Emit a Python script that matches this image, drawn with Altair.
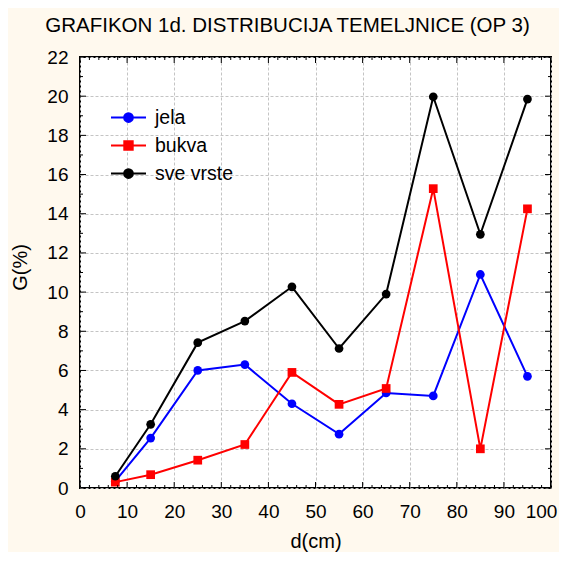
import altair as alt
import pandas as pd

# ---- data ----
d_cm = [7.5, 15, 25, 35, 45, 55, 65, 75, 85, 95]
jela = [0.35, 2.55, 6.0, 6.3, 4.3, 2.75, 4.85, 4.7, 10.9, 5.7]
bukva = [0.3, 0.68, 1.42, 2.22, 5.9, 4.27, 5.08, 15.28, 2.0, 14.25]
sve_vrste = [0.6, 3.25, 7.42, 8.52, 10.27, 7.12, 9.9, 19.97, 12.95, 19.85]
series_names = ["jela", "bukva", "sve vrste"]
series_colors = ["#0000ff", "#ff0000", "#000000"]
series_shapes = ["circle", "square", "circle"]

x_major = list(range(0, 101, 10))
x_minor = [v for v in range(0, 101, 2) if v % 10]
y_major = list(range(0, 23, 2))
y_minor = list(range(1, 22, 2))

W, H = 471, 431
FONT = "Liberation Sans"

rows = []
for name, vals in zip(series_names, [jela, bukva, sve_vrste]):
    for x, y in zip(d_cm, vals):
        rows.append({"serija": name, "d": x, "G": y})
df = pd.DataFrame(rows)

xs = alt.Scale(domain=[0, 100], nice=False, zero=False)
ys = alt.Scale(domain=[0, 22], nice=False, zero=False)

x_axis = alt.Axis(values=x_major, grid=True, gridDash=[3, 2], gridColor="#c4c4c4",
                  gridWidth=1, ticks=False, tickSize=0, domain=False,
                  labelFont=FONT, labelFontSize=19, labelColor="#000000",
                  labelPadding=14, labelFlush=False,
                  labelOffset=alt.expr("datum.value == 100 ? -10 : 0"),
                  titleFont=FONT, titleFontSize=20,
                  titleFontWeight="normal", titleColor="#000000",
                  titleY=59, titleBaseline="alphabetic")
y_axis = alt.Axis(values=y_major, grid=True, gridDash=[3, 2], gridColor="#c4c4c4",
                  gridWidth=1, ticks=False, tickSize=0, domain=False,
                  labelFont=FONT, labelFontSize=19, labelColor="#000000",
                  labelPadding=12, titleFont=FONT, titleFontSize=20,
                  titleFontWeight="normal", titleColor="#000000",
                  titleX=-60, titleY=210, titleAngle=270,
                  titleBaseline="middle", titleAlign="center")

X = alt.X("d:Q", scale=xs, axis=x_axis, title="d(cm)")
Y = alt.Y("G:Q", scale=ys, axis=y_axis, title="G(%)")

layers = []
for name, col, shp in zip(series_names, series_colors, series_shapes):
    sub = df[df["serija"] == name]
    c = alt.Chart(sub)
    layers.append(c.mark_line(color=col, strokeWidth=2).encode(x=X, y=Y))
    layers.append(c.mark_point(color=col, filled=True, opacity=1, shape=shp, size=76)
                  .encode(x=X, y=Y))

# legend layer (invisible marks, legend only)
circ = "M-1,0H1M-0.25,0A0.25,0.25,0,1,0,0.25,0A0.25,0.25,0,1,0,-0.25,0Z"
sq = "M-1,0H1M-0.24,-0.24H0.24V0.24H-0.24Z"
leg_paths = [circ, sq, circ]
leg = alt.Legend(title=None, orient="none", legendX=30, legendY=42, padding=0,
                 symbolSize=1225, symbolStrokeWidth=2, symbolOpacity=1,
                 labelFont=FONT, labelFontSize=19.5, labelColor="#000000",
                 labelOffset=8, rowPadding=-9.5, labelLimit=300)
legend_layer = alt.Chart(df).mark_point(filled=True, opacity=0, size=1225).encode(
    x=X, y=Y,
    fill=alt.Fill("serija:N", scale=alt.Scale(domain=series_names, range=series_colors), legend=leg),
    stroke=alt.Stroke("serija:N", scale=alt.Scale(domain=series_names, range=series_colors), legend=leg),
    shape=alt.Shape("serija:N", scale=alt.Scale(domain=series_names, range=leg_paths), legend=leg),
)
layers.append(legend_layer)

# inward tick marks on all four sides
ymaj = alt.Chart(pd.DataFrame({"G": y_major}))
ymin = alt.Chart(pd.DataFrame({"G": y_minor}))
xmaj = alt.Chart(pd.DataFrame({"d": x_major}))
xmin = alt.Chart(pd.DataFrame({"d": x_minor}))
tk = dict(color="#000000", strokeWidth=1)
layers += [
    ymaj.mark_rule(**tk).encode(y=Y, x=alt.value(0), x2=alt.value(6)),
    ymaj.mark_rule(**tk).encode(y=Y, x=alt.value(W), x2=alt.value(W - 6)),
    ymin.mark_rule(**tk).encode(y=Y, x=alt.value(0), x2=alt.value(3)),
    ymin.mark_rule(**tk).encode(y=Y, x=alt.value(W), x2=alt.value(W - 3)),
    xmaj.mark_rule(**tk).encode(x=X, y=alt.value(H), y2=alt.value(H - 6)),
    xmaj.mark_rule(**tk).encode(x=X, y=alt.value(0), y2=alt.value(6)),
    xmin.mark_rule(**tk).encode(x=X, y=alt.value(H), y2=alt.value(H - 3)),
    xmin.mark_rule(**tk).encode(x=X, y=alt.value(0), y2=alt.value(3)),
]

chart = alt.layer(*layers).properties(
    width=W, height=H,
    autosize=alt.AutoSizeParams(type="none"),
    padding={"left": 72, "top": 49, "right": 8, "bottom": 64},
    background="#fff9ee",
    title=alt.TitleParams("GRAFIKON 1d. DISTRIBUCIJA TEMELJNICE (OP 3)",
                          font=FONT, fontSize=20.5, fontWeight="normal",
                          color="#000000", anchor="middle", frame="group",
                          dx=-28, offset=12),
).configure_view(fill="#ffffff", stroke="#000000", strokeWidth=2)

chart.save("out.html", embed_options={"renderer": "svg", "actions": False})
